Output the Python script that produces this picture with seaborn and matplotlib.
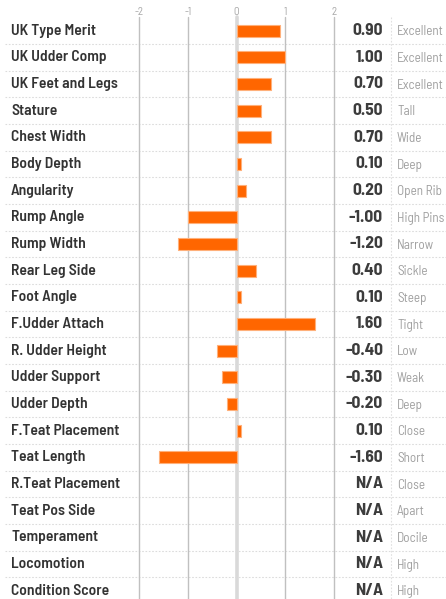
import numpy as np
import pandas as pd
import matplotlib
matplotlib.use("Agg")
import matplotlib.pyplot as plt
import matplotlib.transforms as mtransforms
import seaborn as sns

traits = ["UK Type Merit", "UK Udder Comp", "UK Feet and Legs", "Stature",
          "Chest Width", "Body Depth", "Angularity", "Rump Angle", "Rump Width",
          "Rear Leg Side", "Foot Angle", "F.Udder Attach", "R. Udder Height",
          "Udder Support", "Udder Depth", "F.Teat Placement", "Teat Length",
          "R.Teat Placement", "Teat Pos Side", "Temperament", "Locomotion",
          "Condition Score"]
scores = [0.90, 1.00, 0.70, 0.50, 0.70, 0.10, 0.20, -1.00, -1.20, 0.40, 0.10,
          1.60, -0.40, -0.30, -0.20, 0.10, -1.60,
          np.nan, np.nan, np.nan, np.nan, np.nan]
descriptors = ["Excellent", "Excellent", "Excellent", "Tall", "Wide", "Deep",
               "Open Rib", "High Pins", "Narrow", "Sickle", "Steep", "Tight",
               "Low", "Weak", "Deep", "Close", "Short", "Close", "Apart",
               "Docile", "High", "High"]
ticks = [-2, -1, 0, 1, 2]

dat = pd.DataFrame({"trait": traits, "score": scores})

sns.set_theme(style="white")
plt.rcParams["font.family"] = ["Barlow Semi Condensed", "DejaVu Sans"]

W, H = 446, 599
fig = plt.figure(figsize=(W / 100, H / 100), dpi=100)
# plot area: x 139..334 px, rows from y=17.3 with 26.67 px per row
ax = fig.add_axes([139 / W, (H - 604) / H, 195 / W, 586.7 / H])

sns.barplot(data=dat, x="score", y="trait", order=traits, orient="h",
            color="#ff6600", saturation=1, errorbar=None, width=0.45,
            edgecolor="#ffb07a", linewidth=0.8, ax=ax, zorder=3)

ax.set_xlim(-2, 2)
ax.set_ylim(len(traits) - 0.5, -0.5)
ax.set_xlabel("")
ax.set_ylabel("")
ax.set_yticks([])
ax.xaxis.tick_top()
ax.set_xticks(ticks)
ax.set_xticklabels([str(t) for t in ticks])
ax.tick_params(axis="x", length=0, pad=0, labelsize=8, labelcolor="#a8a8a8")
for s in ax.spines.values():
    s.set_visible(False)

for t in ticks:
    if t == 0:
        ax.axvline(t, color="#d9d9d9", lw=2.6, zorder=1, clip_on=False)
    else:
        ax.axvline(t, color="#c0c0c0", lw=1, zorder=1, clip_on=False)

tr = mtransforms.blended_transform_factory(fig.transFigure, ax.transData)

# dotted row separators across the whole width
for i in range(len(traits) - 1):
    ax.plot([5 / W, 1], [i + 0.5, i + 0.5], transform=tr, color="#dcdcdc",
            lw=0.8, ls=(0, (1.5, 1.5)), clip_on=False, zorder=0)
# dotted column separator between value and descriptor
ax.plot([391 / W, 391 / W], [-0.5, len(traits) - 0.5], transform=tr,
        color="#e0e0e0", lw=0.8, ls=(0, (1.5, 1.5)), clip_on=False, zorder=0)

for i, (name, val, desc) in enumerate(zip(traits, scores, descriptors)):
    ax.text(11 / W, i, name, transform=tr, ha="left", va="center",
            fontsize=11.2, fontweight="semibold", color="#333333")
    txt = "N/A" if np.isnan(val) else f"{val:.2f}"
    ax.text(383 / W, i, txt, transform=tr, ha="right", va="center",
            fontsize=12.5, fontweight="bold", color="#3c3c3c")
    ax.text(397 / W, i + 0.04, desc, transform=tr, ha="left", va="center",
            fontsize=9.5, color="#a0a0a0")

fig.savefig("out.png", dpi=100)
